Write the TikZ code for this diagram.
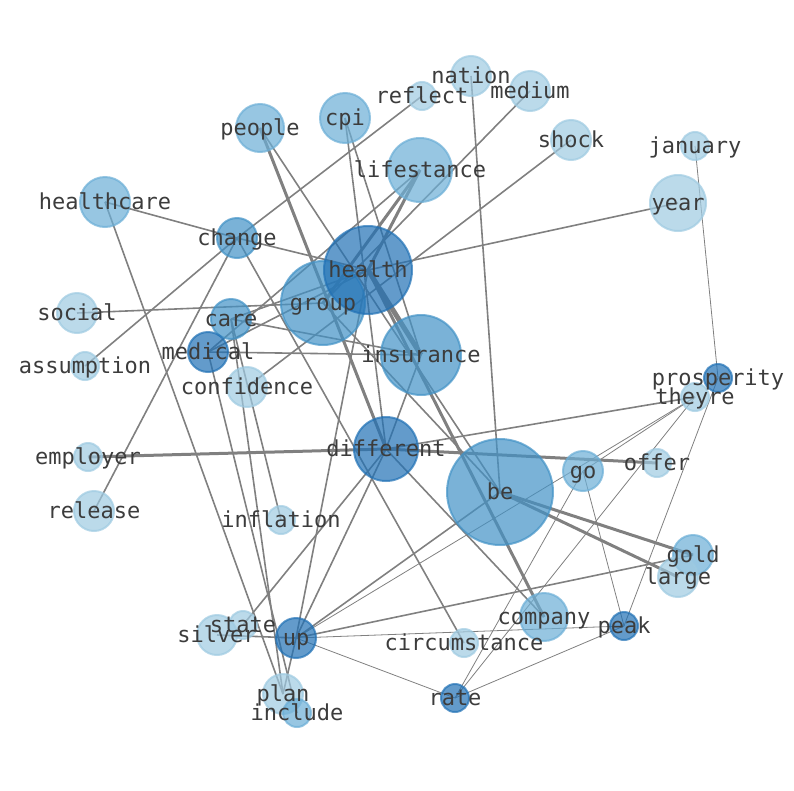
\documentclass[tikz,border=0pt]{standalone}
\usepackage{fontspec}
\setmonofont{DejaVu Sans Mono}

\definecolor{pale}{RGB}{158,202,225}
\definecolor{soft}{RGB}{107,174,214}
\definecolor{deep}{RGB}{66,146,198}
\definecolor{dark}{RGB}{33,113,181}
\definecolor{edgegray}{RGB}{128,128,128}
\definecolor{ink}{RGB}{60,60,60}

\begin{document}
\begin{tikzpicture}[x = 1pt, y = -1pt,
	word/.style = {font = \ttfamily\fontsize{22}{22}\selectfont, text = ink, inner sep = 0pt,
		text height = 17pt, text depth = 2pt},
	link/.style = {draw = edgegray, line width = 1.6pt},
	faint link/.style = {draw = edgegray, line width = 0.8pt},
	heavy link/.style = {draw = edgegray, line width = 3pt}]

\useasboundingbox (0, 0) rectangle (794, 790);

% Word positions

\foreach \n/\x/\y in {nation/471/76, reflect/422/96, medium/530/91, people/260/128, cpi/345/118,
	lifestance/420/170, shock/571/140, january/695/146, year/678/203, healthcare/105/202,
	change/237/238, health/368/270, group/323/303, social/77/313, care/231/319,
	medical/208/352, assumption/85/366, insurance/421/355, confidence/247/387,
	prosperity/718/378, theyre/695/397, employer/88/457, different/386/449, go/583/471,
	offer/657/463, be/500/492, release/94/511, inflation/281/520, gold/693/555,
	large/678/577, company/544/617, state/243/625, silver/217/635, up/296/638,
	circumstance/464/643, peak/624/626, plan/283/694, include/297/713, rate/455/698}
	\coordinate (\n) at (\x, \y);

% Connectors

\draw [link] (healthcare) -- (change);
\draw [link] (change) -- (health);
\draw [link] (change) -- (reflect);
\draw [link] (change) -- (assumption);
\draw [link] (change) -- (release);
\draw [link] (change) -- (circumstance);
\draw [link] (healthcare) -- (plan);
\draw [link] (social) -- (group);
\draw [link] (care) -- (health);
\draw [link] (medical) -- (health);
\draw [link] (care) -- (insurance);
\draw [link] (medical) -- (insurance);
\draw [link] (care) -- (plan);
\draw [link] (care) -- (inflation);
\draw [link] (medical) -- (include);
\draw [link] (confidence) -- (shock);
\draw [link] (medium) -- (group);
\draw [link] (cpi) -- (different);
\draw [link] (cpi) -- (insurance);
\draw [link] (people) -- (be);
\draw [link] (nation) -- (be);
\draw [link] (health) -- (year);
\draw [link] (health) -- (up);
\draw [link] (lifestance) -- (medical);
\draw [link] (group) -- (be);
\draw [link] (insurance) -- (different);
\draw [link] (different) -- (up);
\draw [link] (different) -- (state);
\draw [link] (different) -- (company);
\draw [link] (different) -- (theyre);
\draw [link] (up) -- (be);
\draw [link] (up) -- (gold);
\draw [link] (silver) -- (up);
\draw [link] (up) -- (plan);

\draw [heavy link] (lifestance) -- (health);
\draw [heavy link] (lifestance) -- (group);
\draw [heavy link] (people) -- (different);
\draw [heavy link] (health) -- (company);
\draw [heavy link] (employer) -- (different);
\draw [heavy link] (different) -- (offer);
\draw [heavy link] (be) -- (gold);
\draw [heavy link] (be) -- (large);
\draw [heavy link, line width = 5pt] (health) -- (insurance);

\draw [faint link] (up) -- (theyre);
\draw [faint link] (go) -- (theyre);
\draw [faint link] (up) -- (peak);
\draw [faint link] (up) -- (rate);
\draw [faint link] (rate) -- (go);
\draw [faint link] (rate) -- (theyre);
\draw [faint link] (rate) -- (peak);
\draw [faint link] (go) -- (peak);
\draw [faint link] (peak) -- (prosperity);
\draw [faint link] (january) -- (prosperity);

% Circles

\foreach \n/\r/\c in {nation/20/pale, reflect/14/pale, medium/20/pale, people/24/soft, cpi/25/soft,
	lifestance/32/soft, shock/20/pale, january/14/pale, year/28/pale, healthcare/25/soft,
	change/20/deep, group/42/deep, health/44/dark, social/20/pale, care/20/deep,
	medical/20/dark, assumption/14/pale, insurance/40/deep, confidence/20/pale,
	prosperity/14/dark, theyre/14/pale, employer/14/pale, different/32/dark, go/20/soft,
	offer/14/pale, be/53/deep, release/20/pale, inflation/14/pale, gold/20/soft,
	large/20/pale, company/24/soft, state/14/pale, silver/20/pale, up/20/dark,
	circumstance/14/pale, peak/14/dark, plan/20/pale, include/14/soft, rate/14/dark}
	\draw [fill = \c, draw = \c, fill opacity = 0.7, draw opacity = 0.7, line width = 2pt] (\n) circle (\r);

% Labels

\foreach \n in {nation, reflect, medium, people, cpi, lifestance, shock, january, year, healthcare,
	change, health, group, social, care, medical, assumption, insurance, confidence,
	prosperity, theyre, employer, different, go, offer, be, release, inflation, gold,
	large, company, state, silver, up, circumstance, peak, plan, include, rate}
	\node [word] (\n-label) at (\n) {\n};

\end{tikzpicture}
\end{document}
